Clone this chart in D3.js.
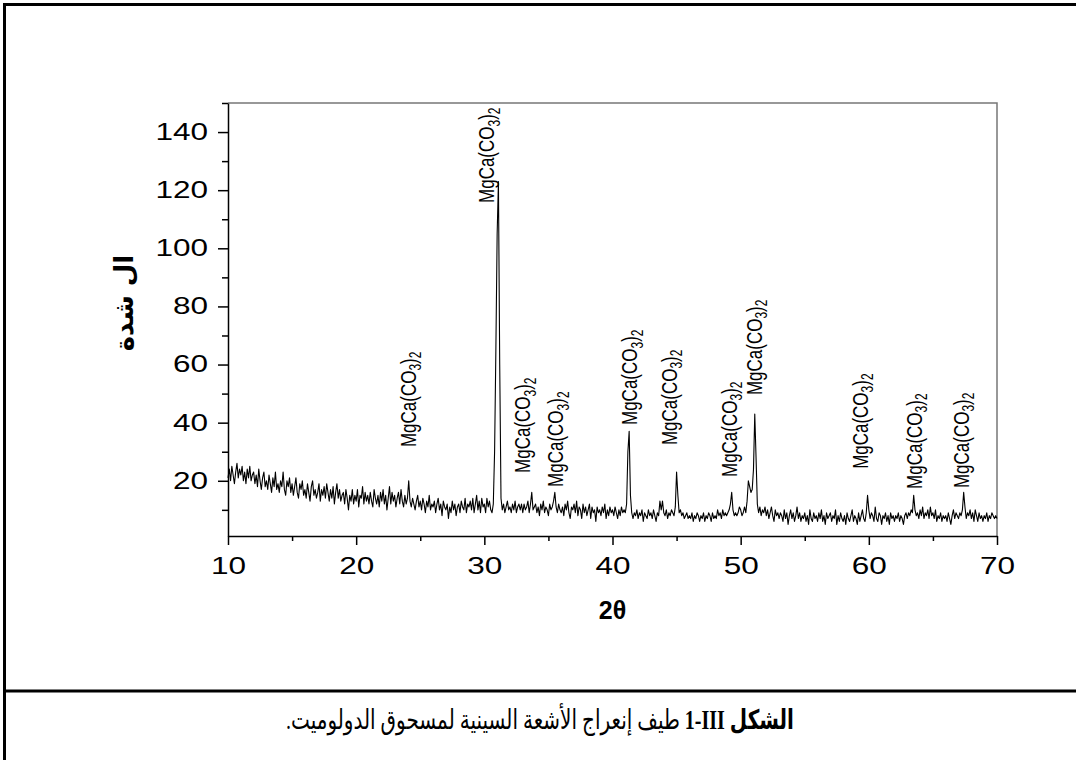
<!DOCTYPE html>
<html lang="en">
<head>
<meta charset="utf-8">
<script src="https://cdn.jsdelivr.net/npm/d3@7"></script>
<style>
  body { margin: 0; background: #fff; }
  .axis path, .axis line { fill: none; stroke: black; stroke-width: 1.5px; }
  .axis text { font-family: "Liberation Sans", Arial, sans-serif; font-size: 23px; fill: black; }
</style>
</head>
<body>
<script>
// XRD pattern, 2theta from 10 to 70 in steps of 0.1 deg
var start = 10, step = 0.1;
var intensity = [
  21,24,20,25,22,19,23,26,21,24,
  22,25,20,23,19,24,21,25,20,22,
  23,19,22,18,24,20,17,21,23,18,
  20,17,22,19,16,21,18,23,17,19,
  16,20,18,23,17,15,20,18,21,16,
  19,15,18,21,16,14,19,17,20,15,
  17,14,19,16,13,18,20,15,17,14,
  16,19,13,17,15,18,14,19,16,13,
  17,14,18,12,16,19,14,17,13,15,
  16,12,17,14,10,15,13,17,12,15,
  13,17,11,15,14,18,12,16,13,15,
  12,16,13,11,17,14,12,15,11,16,
  13,17,12,15,10,14,18,12,16,13,
  15,11,14,16,12,17,13,11,15,12,
  14,20,13,11,14,12,10,13,15,11,
  13,10,14,12,9,13,11,15,10,12,
  11,13,9,12,14,10,12,8,13,11,
  10,12,7,11,9,13,10,12,8,11,
  12,9,13,11,10,14,9,12,11,13,
  10,14,9,12,15,10,13,9,14,11,
  12,9,14,11,13,10,9,12,30,65,
  105,123,60,14,10,12,9,11,13,10,
  11,9,12,10,13,9,11,12,10,12,
  9,12,10,11,13,9,12,16,10,11,
  12,9,11,8,12,10,13,9,11,10,
  8,12,10,11,13,16,11,9,12,10,
  9,11,8,12,10,13,9,7,11,10,
  12,9,13,8,11,10,7,12,9,11,
  8,10,12,7,11,9,10,6,11,9,
  10,8,11,9,12,7,10,8,11,9,
  10,8,11,9,7,10,8,11,9,10,
  9,12,30,37,15,9,7,9,8,10,
  7,9,8,10,6,9,8,7,10,8,
  9,7,10,8,6,9,8,13,10,13,
  9,8,10,7,9,8,10,9,8,11,
  23,15,9,10,8,9,7,8,9,7,
  8,7,9,6,8,7,9,8,6,8,
  7,9,6,8,7,9,8,6,9,7,
  8,7,10,8,9,7,10,8,9,8,
  9,10,12,16,10,8,9,8,9,11,
  10,8,9,11,9,13,20,18,16,17,
  24,43,28,12,9,11,8,10,9,11,
  8,10,7,9,11,8,6,10,8,9,
  7,9,8,6,10,7,9,5,8,10,
  7,9,6,8,11,7,9,6,8,7,
  9,6,8,5,10,7,6,9,7,8,
  6,9,7,10,6,8,5,9,7,8,
  9,6,8,7,10,5,8,6,9,7,
  6,8,5,9,7,6,8,10,6,8,
  7,5,9,6,8,10,7,6,9,15,
  10,7,9,8,6,11,7,6,9,8,
  5,8,7,9,6,8,5,9,7,8,
  6,8,7,9,6,8,7,5,8,9,
  7,9,8,10,9,15,10,8,9,7,
  10,8,11,7,9,8,10,7,11,8,
  9,7,10,6,8,7,9,6,8,7,
  8,6,9,7,5,8,10,7,9,8,
  7,9,8,10,16,11,7,9,8,10,
  7,9,6,10,8,6,9,7,8,6,
  8,7,9,6,8,7,9,8,7,8,
  7
];

// peak annotations: 2theta of label baseline, intensity where the label starts
var labelAngle = [24.69, 30.78, 33.59, 36.17, 41.95, 45.0, 49.69, 51.64, 59.92, 64.14, 67.81];
var labelBase  = [31.6, 115.6, 22.7, 17.9, 39.2, 32.3, 21.3, 49.5, 24.1, 17.2, 17.5];

var xTicks = [10, 20, 30, 40, 50, 60, 70];
var xMinor = [15, 25, 35, 45, 55, 65];
var yTicks = [20, 40, 60, 80, 100, 120, 140];
var yMinor = [10, 30, 50, 70, 90, 110, 130, 150];

var xTitle = "2θ";
var yTitle = "ال شدة";
var captionBold = "الشكل III\u200F-1";
var captionRest = " طيف إنعراج الأشعة السينية لمسحوق الدولوميت.";

var width = 1076, height = 760;
var plot = {left: 228, right: 997, top: 103, bottom: 536};
var stretch = 1.37;

var svg = d3.select("body")
            .append("svg")
            .attr("width", width)
            .attr("height", height);

// page frame
svg.append("line").attr("x1", 3).attr("x2", width).attr("y1", 4.5).attr("y2", 4.5)
   .attr("stroke", "black").attr("stroke-width", 3);
svg.append("line").attr("x1", 4.5).attr("x2", 4.5).attr("y1", 3).attr("y2", height)
   .attr("stroke", "black").attr("stroke-width", 3);
svg.append("line").attr("x1", 3).attr("x2", width).attr("y1", 691).attr("y2", 691)
   .attr("stroke", "black").attr("stroke-width", 3);

var x = d3.scaleLinear().domain([10, 70]).range([plot.left, plot.right]);
var y = d3.scaleLinear().domain([1, 150]).range([plot.bottom, plot.top]);

// top and right frame of the plot
svg.append("path")
   .attr("d", "M" + plot.left + "," + plot.top + "H" + plot.right + "V" + plot.bottom)
   .attr("fill", "none").attr("stroke", "#777").attr("stroke-width", 1.5);

// x axis
var xAxis = svg.append("g").attr("class", "axis")
   .attr("transform", "translate(0," + plot.bottom + ")");
xAxis.call(d3.axisBottom(x).tickValues(xTicks).tickSize(9).tickSizeOuter(0).tickPadding(13));
xAxis.selectAll("text").attr("transform", "scale(" + stretch + ",1)");
svg.append("g").attr("class", "axis")
   .attr("transform", "translate(0," + plot.bottom + ")")
   .call(d3.axisBottom(x).tickValues(xMinor).tickSize(5).tickSizeOuter(0).tickFormat(""))
   .select(".domain").remove();

// y axis
var yAxis = svg.append("g").attr("class", "axis")
   .attr("transform", "translate(" + plot.left + ",0)");
yAxis.call(d3.axisLeft(y).tickValues(yTicks).tickSize(10).tickSizeOuter(0));
yAxis.selectAll("text")
   .attr("x", -20 / stretch)
   .attr("transform", "scale(" + stretch + ",1)");
svg.append("g").attr("class", "axis")
   .attr("transform", "translate(" + plot.left + ",0)")
   .call(d3.axisLeft(y).tickValues(yMinor).tickSize(6).tickSizeOuter(0).tickFormat(""))
   .select(".domain").remove();

// the pattern
var line = d3.line()
   .x(function(d, i) { return x(start + i * step); })
   .y(function(d) { return y(d); });

svg.append("path")
   .datum(intensity)
   .attr("d", line)
   .attr("fill", "none")
   .attr("stroke", "black")
   .attr("stroke-width", 1.1)
   .attr("stroke-linejoin", "round");

// peak labels
var labels = svg.append("g").selectAll("text")
   .data(labelAngle)
   .enter()
   .append("text")
   .attr("transform", function(d, i) {
      return "translate(" + x(d) + "," + y(labelBase[i]) + ") scale(1.3,1) rotate(-90)";
   })
   .style("font-family", "'Liberation Sans', Arial, sans-serif")
   .style("font-size", "17px");
labels.append("tspan").text("MgCa(CO");
labels.append("tspan").attr("dy", 4).style("font-size", "12px").text("3");
labels.append("tspan").attr("dy", -4).text(")");
labels.append("tspan").attr("dy", 4).style("font-size", "12px").text("2");

// axis titles
svg.append("text")
   .attr("x", x(40))
   .attr("y", 619)
   .attr("text-anchor", "middle")
   .style("font-family", "'Liberation Sans', Arial, sans-serif")
   .style("font-weight", "bold")
   .style("font-size", "25px")
   .text(xTitle);

svg.append("text")
   .attr("transform", "translate(124,303) rotate(-90)")
   .attr("text-anchor", "middle")
   .attr("dominant-baseline", "central")
   .style("font-family", "'DejaVu Sans', sans-serif")
   .style("font-weight", "bold")
   .style("font-size", "26px")
   .text(yTitle);

// caption, condensed to the width of the original
var caption = svg.append("text")
   .attr("transform", "translate(540,729) scale(0.74,1)")
   .attr("direction", "rtl")
   .attr("text-anchor", "middle")
   .style("font-family", "'Liberation Serif', 'DejaVu Sans', serif")
   .style("font-size", "27px");
caption.append("tspan").style("font-weight", "bold").text(captionBold);
caption.append("tspan").text(captionRest);
</script>
</body>
</html>
